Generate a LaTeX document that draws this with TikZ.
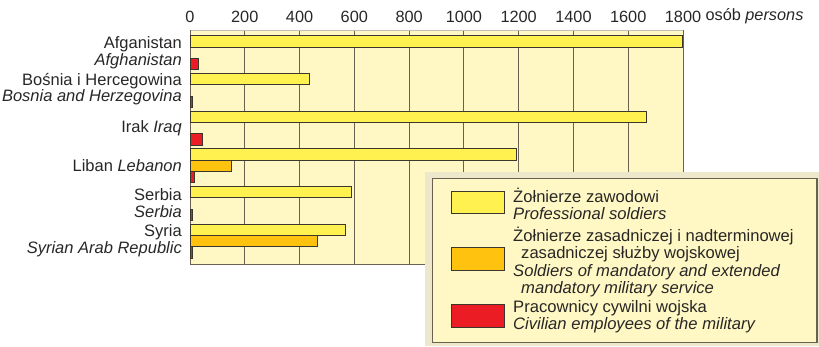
\documentclass[tikz,border=0pt]{standalone}
\usepackage{fontspec}
\setmainfont{Liberation Sans}
\usetikzlibrary{positioning}
\definecolor{plotbg}{RGB}{255,248,196}
\definecolor{legbg}{RGB}{237,231,203}
\definecolor{gridgray}{RGB}{105,98,80}
\definecolor{barline}{RGB}{60,55,45}
\definecolor{proyellow}{RGB}{255,241,80}
\definecolor{manorange}{RGB}{255,194,14}
\definecolor{civred}{RGB}{236,28,36}
\definecolor{txt}{RGB}{40,38,38}

\begin{document}
\begin{tikzpicture}[x=1pt,y=-1pt]

\tikzset{bar/.style = {draw=barline, line width=0.9pt}}
\tikzset{gridline/.style = {draw=gridgray, line width=1pt}}
\tikzset{country/.style = {anchor=east, align=right, inner sep=0pt, text=txt, font=\fontsize{16.5}{16.6}\selectfont}}
\tikzset{tick/.style = {inner sep=0pt, text=txt, font=\fontsize{16.3}{16.6}\selectfont}}
\tikzset{legtext/.style = {anchor=west, align=left, inner sep=0pt, text=txt, font=\fontsize{16.6}{17.2}\selectfont}}
\tikzset{swatch/.style = {draw=barline, line width=1pt}}

\useasboundingbox (0,0) rectangle (819,346);

% plot area
\fill[plotbg] (190,30) rectangle (683,264);
\foreach \v in {200,400,...,1600}
  \draw[gridline] ({190+\v*0.27389},30) -- ({190+\v*0.27389},264);
\draw[gridgray!40, line width=1pt] (190,30) -- (683,30);
\draw[gridline] (683,30) -- (683,264) -- (190,264) -- (190,30);

% axis labels
\foreach \v in {0,200,...,1800}
  \node[tick] (t\v) at ({190+\v*0.27389},16.5) {\v};
\node[tick, right=4pt of t1800] (unit) {osób \textit{persons}};

% bars
\begin{scope}[shift={(190,0)}, x=0.27389pt]
\foreach \yel/\ora/\red [count=\i from 0] in
  {1797/0/32, 436/0/8, 1665/0/44, 1193/152/16, 589/0/8, 568/465/8} {
  \pgfmathsetmacro\g{35.8+37.65*\i}
  \ifdim\yel pt>0pt \filldraw[bar, fill=proyellow] (0,\g) rectangle (\yel,\g+11.3); \fi
  \ifdim\ora pt>0pt \filldraw[bar, fill=manorange] (0,\g+11.3) rectangle (\ora,\g+22.6); \fi
  \ifdim\red pt>0pt \filldraw[bar, fill=civred] (0,\g+22.6) rectangle (\red,\g+33.9); \fi
}
\end{scope}

% countries
\node[country] (afg) at (182,52.5) {Afganistan\\\textit{Afghanistan}};
\node[country] (bih) at (182,89) {Bośnia i Hercegowina\\\textit{Bosnia and Herzegovina}};
\node[country] (irq) at (182,128) {Irak \textit{Iraq}};
\node[country] (lbn) at (182,166) {Liban \textit{Lebanon}};
\node[country] (srb) at (182,203) {Serbia\\\textit{Serbia}};
\node[country] (syr) at (182,240.5) {Syria\\\textit{Syrian Arab Republic}};

% legend
\fill[legbg] (425,172) rectangle (819,346);
\filldraw[fill=plotbg, draw=gridgray, line width=1.3pt] (432.5,178.5) rectangle (817,342.5);
\filldraw[swatch, fill=proyellow] (451,191) rectangle (504,213);
\filldraw[swatch, fill=manorange] (451,247.5) rectangle (504,270);
\filldraw[swatch, fill=civred] (451,304) rectangle (504,327);
\node[legtext] (lpro) at (513,203.5) {Żołnierze zawodowi\\\textit{Professional soldiers}};
\node[legtext] (lman) at (513,262) {Żołnierze zasadniczej i nadterminowej\\\hspace*{8pt}zasadniczej służby wojskowej\\\textit{Soldiers of mandatory and extended}\\\hspace*{8pt}\textit{mandatory military service}};
\node[legtext] (lciv) at (513,317) {Pracownicy cywilni wojska\\\textit{Civilian employees of the military}};

\end{tikzpicture}
\end{document}
